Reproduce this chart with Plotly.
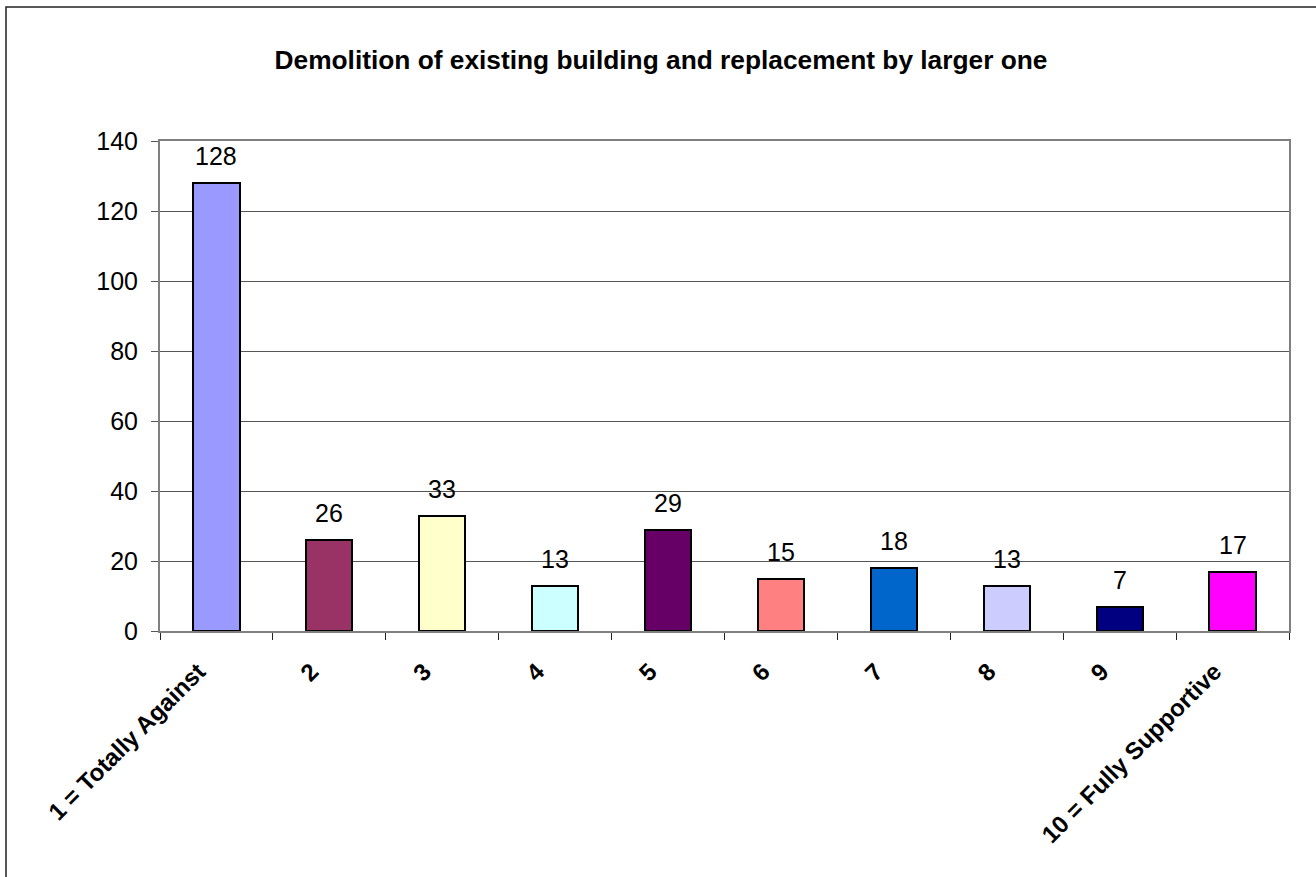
import plotly.graph_objects as go

categories = ["1 = Totally Against", "2", "3", "4", "5", "6", "7", "8", "9", "10 = Fully Supportive"]
counts = [128, 26, 33, 13, 29, 15, 18, 13, 7, 17]
bar_colors = ["#9999FF", "#993366", "#FFFFCC", "#CCFFFF", "#660066",
              "#FF8080", "#0066CC", "#CCCCFF", "#000080", "#FF00FF"]
y_ticks = [0, 20, 40, 60, 80, 100, 120, 140]
title_text = "Demolition of existing building and replacement by larger one"

W, H = 1316, 877
ML, MR, MT, MB = 160, 27, 141, 246
PW, PH = W - ML - MR, H - MT - MB
FONT = "Liberation Sans, Arial"

fig = go.Figure()
fig.add_trace(go.Bar(
    x=categories, y=counts,
    marker=dict(color=bar_colors, line=dict(color="#000000", width=2)),
    width=0.41,
    hoverinfo="x+y",
))

# value labels above each bar (x given as category index)
for i, v in enumerate(counts):
    fig.add_annotation(x=i, y=v, text=str(v), showarrow=False,
                       yanchor="bottom", yshift=11,
                       font=dict(family=FONT, size=25, color="#000000"))

# outer chart frame
fig.add_shape(type="rect", xref="paper", yref="paper",
              x0=(6 - ML) / PW, x1=(W + 5 - ML) / PW,
              y0=-(H + 5 - MT - PH) / PH, y1=(H - 7 - MB) / PH,
              line=dict(color="#222222", width=1.5), fillcolor="rgba(0,0,0,0)", layer="below")

fig.update_layout(
    width=W, height=H,
    margin=dict(l=ML, r=MR, t=MT, b=MB),
    paper_bgcolor="white", plot_bgcolor="white",
    showlegend=False,
    bargap=0,
    title=dict(text="<b>" + title_text + "</b>", x=661 / W, xanchor="center",
               y=1 - 60 / H, yanchor="middle",
               font=dict(family=FONT, size=26.3, color="#000000")),
    font=dict(family=FONT, color="#000000"),
)
fig.update_xaxes(
    type="category", range=[-0.5, 9.5],
    tickangle=-45, tickfont=dict(size=24, family=FONT, weight="bold"),
    ticklabelshift=-18, ticklabelstandoff=15,
    ticks="outside", tickson="boundaries", ticklen=7, tickcolor="#222222", tickwidth=1,
    showline=True, linecolor="#808080", linewidth=2, mirror=True,
    showgrid=False,
)
fig.update_yaxes(
    range=[0, 140], tickvals=y_ticks,
    tickfont=dict(size=25, family=FONT),
    ticklabelstandoff=8,
    ticks="outside", ticklen=7, tickcolor="#555555", tickwidth=1,
    showline=True, linecolor="#808080", linewidth=2, mirror=True,
    showgrid=True, gridcolor="#555555", gridwidth=1,
    zeroline=False,
)

fig.write_html("out.html")
